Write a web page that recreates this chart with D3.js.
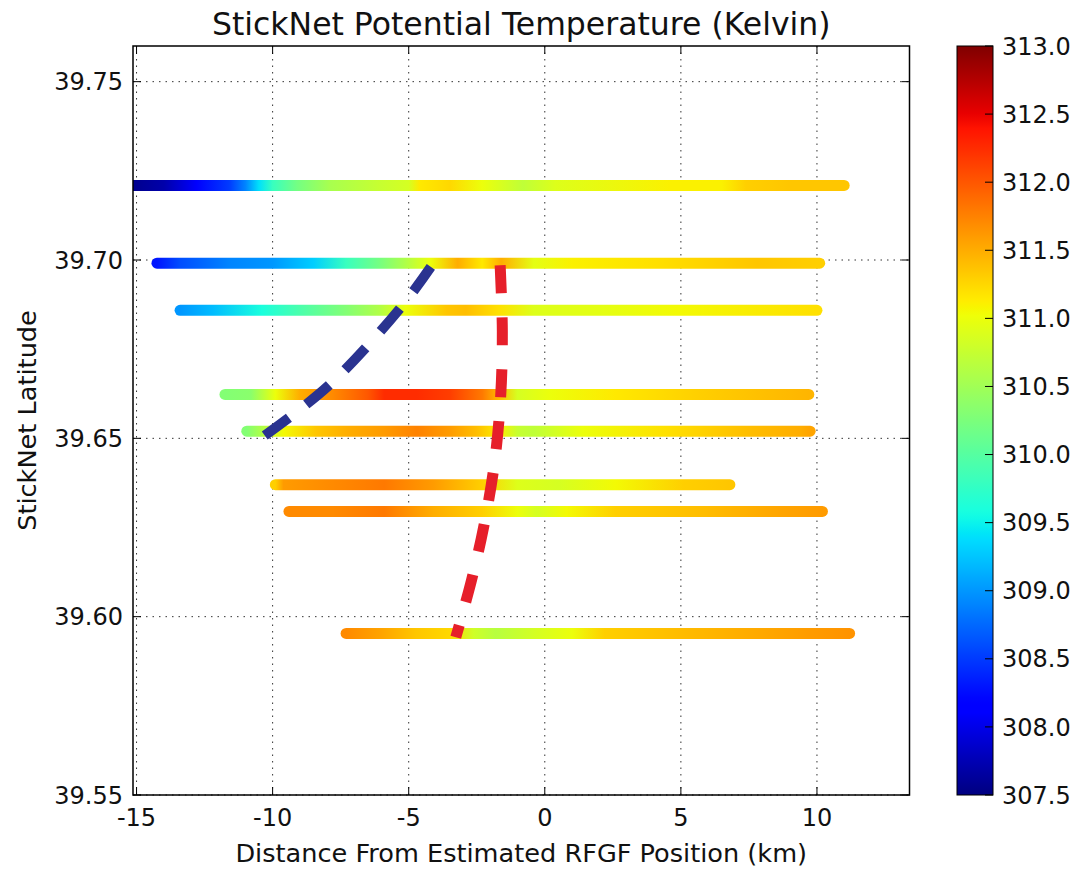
<!DOCTYPE html>
<html>
<head>
<meta charset="utf-8">
<script src="https://cdn.jsdelivr.net/npm/d3@7"></script>
<style>
  body { margin: 0; background: #fff; }
  text { font-family: "DejaVu Sans", sans-serif; fill: #111; }
</style>
</head>
<body>
<script>
// latitude of each StickNet transect
var trackLat = [39.7209, 39.6991, 39.6859, 39.6623, 39.6520, 39.6370, 39.6295, 39.5953];

// distance (km) / potential temperature (K) read along each transect
var trackDist = [
    [-15.3, -14.0, -12.8, -11.6, -11.0, -10.5, -10.0, -9.1, -7.9, -6.1, -5.0, -4.6, -3.5, -2.3, -0.8, 0.4, 4.6, 6.5, 7.4, 9.0, 11.0],
    [-14.25, -13.4, -11.6, -10.0, -8.5, -7.3, -6.1, -5.1, -4.2, -3.2, -2.3, -1.6, -0.4, 1.0, 4.1, 7.8, 10.1],
    [-13.4, -12.2, -10.4, -9.1, -7.3, -6.1, -5.1, -3.6, -2.9, -1.7, -0.4, 2.0, 4.9, 10.0],
    [-11.75, -10.8, -9.9, -9.0, -7.8, -6.5, -5.9, -4.7, -3.5, -2.3, -1.65, -1.0, 0.2, 2.6, 5.7, 8.2, 9.7],
    [-10.95, -10.2, -9.6, -8.4, -7.2, -5.9, -4.7, -3.5, -2.5, -1.65, -1.0, -0.4, 1.4, 4.5, 7.5, 9.4, 9.75],
    [-9.9, -9.6, -7.8, -5.9, -4.1, -2.3, -1.0, 0.5, 2.6, 5.1, 6.8],
    [-9.4, -7.8, -5.9, -4.1, -2.3, -1.0, -0.3, 0.8, 2.6, 5.7, 8.75, 10.2],
    [-7.3, -6.0, -4.75, -3.5, -2.6, -1.8, -0.3, 1.0, 2.2, 4.7, 7.3, 9.8, 11.2]
];
var trackTemp = [
    [307.55, 307.7, 308.1, 308.5, 308.9, 309.4, 309.8, 310.2, 310.55, 310.75, 310.85, 311.15, 311.25, 311.0, 310.7, 310.9, 311.1, 311.1, 311.3, 311.35, 311.35],
    [308.3, 308.6, 308.9, 309.0, 309.3, 309.8, 310.2, 310.6, 311.0, 311.5, 311.15, 311.5, 310.95, 311.1, 311.2, 311.35, 311.3],
    [309.0, 309.2, 309.6, 309.9, 310.3, 310.6, 311.0, 311.35, 311.4, 311.2, 310.9, 310.95, 311.05, 311.2],
    [310.3, 310.35, 311.0, 311.5, 311.7, 312.0, 312.25, 312.25, 312.15, 311.8, 311.4, 310.85, 311.0, 311.15, 311.3, 311.4, 311.45],
    [310.3, 310.7, 311.05, 311.35, 311.5, 311.6, 311.75, 311.6, 311.4, 311.1, 310.75, 310.7, 311.0, 311.2, 311.4, 311.5, 311.55],
    [311.3, 311.6, 311.7, 311.8, 311.6, 311.3, 310.9, 310.85, 311.05, 311.3, 311.35],
    [311.7, 311.7, 311.8, 311.5, 311.3, 311.0, 310.85, 311.05, 311.3, 311.4, 311.55, 311.6],
    [311.7, 311.55, 311.35, 311.25, 310.8, 310.65, 310.85, 311.0, 311.3, 311.4, 311.5, 311.6, 311.65]
];

// frontal positions (dashed lines)
var blueFrontDist = [-10.29, -7.94, -5.29, -4.15];
var blueFrontLat = [39.6508, 39.6648, 39.6867, 39.6985];
var redFrontDist = [-1.64, -1.56, -1.62, -1.85, -2.25, -2.7, -3.27];
var redFrontLat = [39.6985, 39.68, 39.662, 39.643, 39.625, 39.61, 39.5942];

var xTicks = [-15, -10, -5, 0, 5, 10];
var yTicks = [39.55, 39.60, 39.65, 39.70, 39.75];
var cbTicks = [307.5, 308.0, 308.5, 309.0, 309.5, 310.0, 310.5, 311.0, 311.5, 312.0, 312.5, 313.0];

// jet colormap
var jetR = d3.scaleLinear().domain([0, 0.35, 0.66, 0.89, 1]).range([0, 0, 1, 1, 0.5]).clamp(true);
var jetG = d3.scaleLinear().domain([0, 0.125, 0.375, 0.64, 0.91, 1]).range([0, 0, 1, 1, 0, 0]).clamp(true);
var jetB = d3.scaleLinear().domain([0, 0.11, 0.34, 0.65, 1]).range([0.5, 1, 1, 0, 0]).clamp(true);
function jet(t) {
    return d3.rgb(jetR(t) * 255, jetG(t) * 255, jetB(t) * 255).formatHex();
}
var tNorm = d3.scaleLinear().domain([307.5, 313.0]).range([0, 1]).clamp(true);
function tempColor(v) { return jet(tNorm(v)); }

var w = 1081, h = 871;
var pLeft = 133, pRight = 909.5, pTop = 46, pBottom = 795;

var x = d3.scaleLinear().domain([-15.13, 13.4]).range([pLeft, pRight]);
var y = d3.scaleLinear().domain([39.55, 39.76]).range([pBottom, pTop]);

var svg = d3.select("body").append("svg")
    .attr("width", w)
    .attr("height", h);

var defs = svg.append("defs");
defs.append("clipPath").attr("id", "plotclip")
    .append("rect")
    .attr("x", pLeft).attr("y", pTop)
    .attr("width", pRight - pLeft).attr("height", pBottom - pTop);

// grid
var grid = svg.append("g")
    .attr("stroke", "#333")
    .attr("stroke-width", 1)
    .attr("stroke-dasharray", "1.5,5");
grid.selectAll(".vg").data(xTicks).enter().append("line")
    .attr("x1", function(d) { return x(d); }).attr("x2", function(d) { return x(d); })
    .attr("y1", pTop).attr("y2", pBottom);
grid.selectAll(".hg").data(yTicks).enter().append("line")
    .attr("y1", function(d) { return y(d); }).attr("y2", function(d) { return y(d); })
    .attr("x1", pLeft).attr("x2", pRight);

var plot = svg.append("g").attr("clip-path", "url(#plotclip)");

// transects drawn as thick lines coloured by temperature stops
trackLat.forEach(function(lat, i) {
    var dist = trackDist[i], temp = trackTemp[i];
    var x0 = x(dist[0]), x1 = x(dist[dist.length - 1]);
    var grad = defs.append("linearGradient")
        .attr("id", "track" + i)
        .attr("gradientUnits", "userSpaceOnUse")
        .attr("x1", x0).attr("x2", x1)
        .attr("y1", 0).attr("y2", 0);
    dist.forEach(function(d, j) {
        grad.append("stop")
            .attr("offset", (x(d) - x0) / (x1 - x0))
            .attr("stop-color", tempColor(temp[j]));
    });
    plot.append("line")
        .attr("x1", x0).attr("x2", x1)
        .attr("y1", y(lat)).attr("y2", y(lat))
        .attr("stroke", "url(#track" + i + ")")
        .attr("stroke-width", 11)
        .attr("stroke-linecap", "round");
});

var frontLine = d3.line()
    .x(function(d) { return x(d[0]); })
    .y(function(d) { return y(d[1]); })
    .curve(d3.curveCatmullRom);

plot.append("path")
    .attr("d", frontLine(d3.zip(blueFrontDist, blueFrontLat)))
    .attr("fill", "none")
    .attr("stroke", "#2a3390")
    .attr("stroke-width", 10)
    .attr("stroke-dasharray", "30,22");

plot.append("path")
    .attr("d", frontLine(d3.zip(redFrontDist, redFrontLat)))
    .attr("fill", "none")
    .attr("stroke", "#e61f2a")
    .attr("stroke-width", 11)
    .attr("stroke-dasharray", "28,24");

// frame and inward ticks on all sides
var tickLen = 8;
var ticks = svg.append("g").attr("stroke", "#000").attr("stroke-width", 1);
xTicks.forEach(function(d) {
    ticks.append("line").attr("x1", x(d)).attr("x2", x(d)).attr("y1", pBottom).attr("y2", pBottom - tickLen);
    ticks.append("line").attr("x1", x(d)).attr("x2", x(d)).attr("y1", pTop).attr("y2", pTop + tickLen);
});
yTicks.forEach(function(d) {
    ticks.append("line").attr("y1", y(d)).attr("y2", y(d)).attr("x1", pLeft).attr("x2", pLeft + tickLen);
    ticks.append("line").attr("y1", y(d)).attr("y2", y(d)).attr("x1", pRight).attr("x2", pRight - tickLen);
});
svg.append("rect")
    .attr("x", pLeft).attr("y", pTop)
    .attr("width", pRight - pLeft).attr("height", pBottom - pTop)
    .attr("fill", "none")
    .attr("stroke", "#000")
    .attr("stroke-width", 1.5);

// tick labels
svg.selectAll(".xl").data(xTicks).enter().append("text")
    .attr("x", function(d) { return x(d); })
    .attr("y", 826)
    .attr("text-anchor", "middle")
    .style("font-size", "24px")
    .text(function(d) { return d; });
svg.selectAll(".yl").data(yTicks).enter().append("text")
    .attr("x", 123)
    .attr("y", function(d) { return y(d); })
    .attr("dy", "0.36em")
    .attr("text-anchor", "end")
    .style("font-size", "24px")
    .text(function(d) { return d3.format(".2f")(d); });

// titles
svg.append("text")
    .attr("x", (pLeft + pRight) / 2).attr("y", 35)
    .attr("text-anchor", "middle")
    .style("font-size", "31.5px")
    .text("StickNet Potential Temperature (Kelvin)");
svg.append("text")
    .attr("x", (pLeft + pRight) / 2).attr("y", 862)
    .attr("text-anchor", "middle")
    .style("font-size", "25.6px")
    .text("Distance From Estimated RFGF Position (km)");
svg.append("text")
    .attr("transform", "translate(36," + (pTop + pBottom) / 2 + ") rotate(-90)")
    .attr("text-anchor", "middle")
    .style("font-size", "25.6px")
    .text("StickNet Latitude");

// colorbar
var cbLeft = 957, cbRight = 993;
var cbY = d3.scaleLinear().domain([307.5, 313.0]).range([pBottom, pTop]);
var cbGrad = defs.append("linearGradient")
    .attr("id", "cbgrad")
    .attr("x1", 0).attr("x2", 0).attr("y1", 1).attr("y2", 0);
d3.range(0, 1.0001, 0.01).forEach(function(t) {
    cbGrad.append("stop").attr("offset", t).attr("stop-color", jet(t));
});
svg.append("rect")
    .attr("x", cbLeft).attr("y", pTop)
    .attr("width", cbRight - cbLeft).attr("height", pBottom - pTop)
    .attr("fill", "url(#cbgrad)")
    .attr("stroke", "#000")
    .attr("stroke-width", 1);
svg.selectAll(".cbt").data(cbTicks).enter().append("line")
    .attr("x1", cbRight).attr("x2", cbRight - 8)
    .attr("y1", function(d) { return cbY(d); })
    .attr("y2", function(d) { return cbY(d); })
    .attr("stroke", "#000");
svg.selectAll(".cbl").data(cbTicks).enter().append("text")
    .attr("x", 1002)
    .attr("y", function(d) { return cbY(d); })
    .attr("dy", "0.36em")
    .style("font-size", "24px")
    .text(function(d) { return d3.format(".1f")(d); });
</script>
</body>
</html>
